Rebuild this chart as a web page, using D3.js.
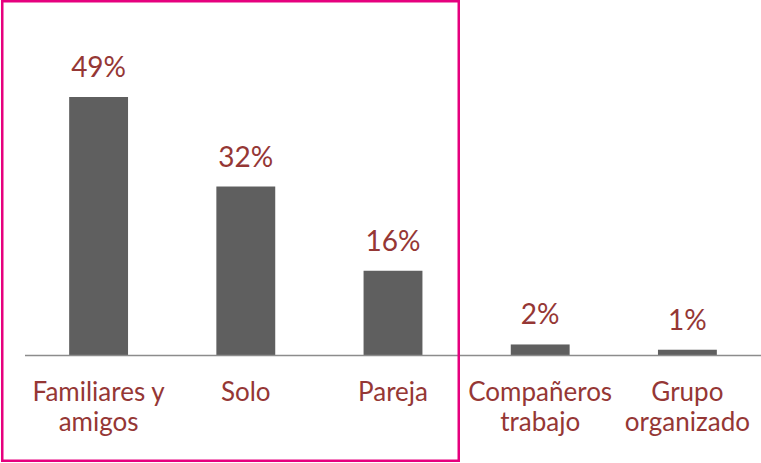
<!DOCTYPE html>
<html>
<head>
<meta charset="utf-8">
<script src="https://cdn.jsdelivr.net/npm/d3@7/dist/d3.min.js"></script>
<style>
  html, body { margin: 0; padding: 0; background: #fff; }
  svg { display: block; }
  text { font-family: Lato, "Open Sans", sans-serif; fill: #953735; }
</style>
</head>
<body>
<div id="chart"></div>
<script>
// categories, each split into its label lines
let categories = ['Familiares y amigos', 'Solo', 'Pareja', 'Compañeros trabajo', 'Grupo organizado'];
let labelLines = [['Familiares y', 'amigos'], ['Solo'], ['Pareja'], ['Compañeros', 'trabajo'], ['Grupo', 'organizado']];
let values = [49, 32, 16, 2, 1];
let valueLabels = ['49%', '32%', '16%', '2%', '1%'];

let width = 761;
let height = 463;
let margin = {top: 0, right: 0, bottom: 108, left: 25};
let baseY = height - margin.bottom; // 355

let svg = d3.select('#chart')
  .append('svg')
  .attr('width', width)
  .attr('height', height);

let x = d3.scaleBand()
  .domain(categories)
  .range([margin.left, width])
  .paddingInner(0.6)
  .paddingOuter(0.3);

let y = d3.scaleLinear()
  .domain([0, 49])
  .range([baseY, 97]);

// bars
svg.selectAll('rect.bar')
  .data(values)
  .enter().append('rect')
  .attr('class', 'bar')
  .attr('x', (d, i) => x(categories[i]))
  .attr('y', d => y(d))
  .attr('width', x.bandwidth())
  .attr('height', d => y(0) - y(d))
  .style('fill', '#5f5f5f');

// baseline
svg.append('line')
  .attr('x1', margin.left)
  .attr('x2', width)
  .attr('y1', baseY + 0.5)
  .attr('y2', baseY + 0.5)
  .style('stroke', '#8c8c8c')
  .style('stroke-width', 1.5);

// value labels
svg.selectAll('text.value')
  .data(values)
  .enter().append('text')
  .attr('class', 'value')
  .attr('x', (d, i) => x(categories[i]) + x.bandwidth() / 2)
  .attr('y', d => y(d) - 20)
  .attr('text-anchor', 'middle')
  .style('font-size', '28px')
  .text((d, i) => valueLabels[i]);

// category labels
let cat = svg.selectAll('text.cat')
  .data(labelLines)
  .enter().append('text')
  .attr('class', 'cat')
  .attr('text-anchor', 'middle')
  .style('font-size', '26px');

cat.selectAll('tspan')
  .data((d, i) => d.map(t => ({t: t, i: i})))
  .enter().append('tspan')
  .attr('x', d => x(categories[d.i]) + x.bandwidth() / 2)
  .attr('y', (d, j) => baseY + 46 + j * 30)
  .text(d => d.t);

// highlight box round the first three categories
svg.append('rect')
  .attr('x', 2.25)
  .attr('y', 1.25)
  .attr('width', 456.5)
  .attr('height', 459.5)
  .style('fill', 'none')
  .style('stroke', '#e6007e')
  .style('stroke-width', 2.5);
</script>
</body>
</html>
